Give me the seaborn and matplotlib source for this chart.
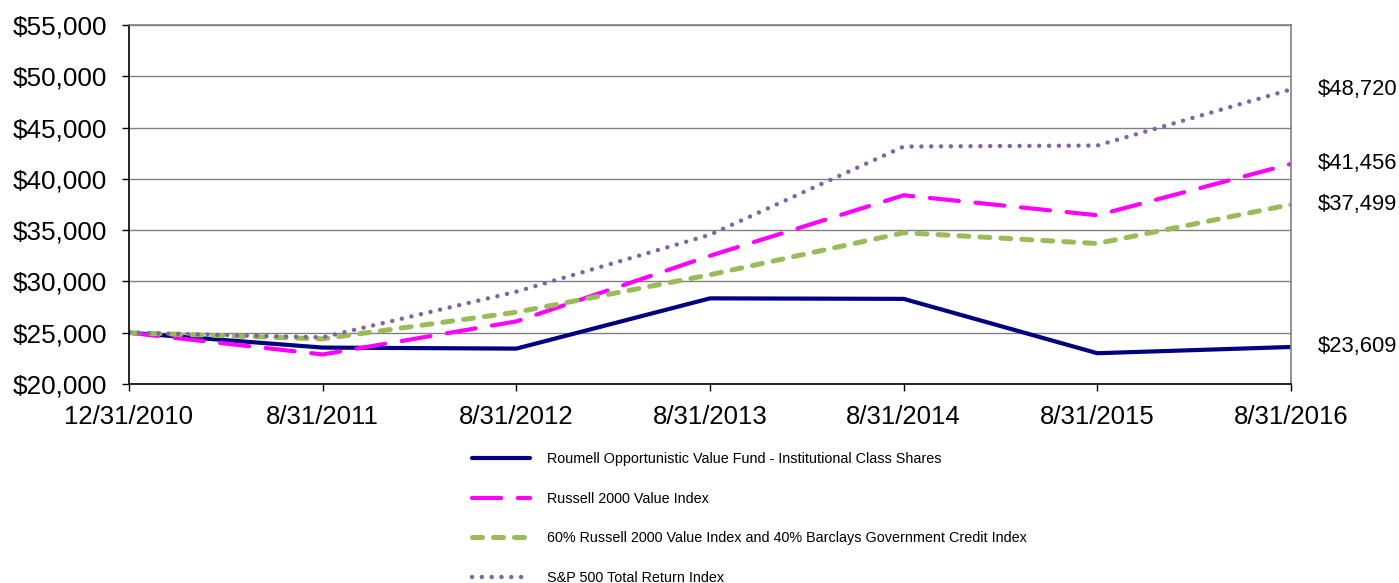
import numpy as np
import pandas as pd
import matplotlib
matplotlib.use("Agg")
import matplotlib.pyplot as plt
import matplotlib.ticker as mticker
import seaborn as sns

dates = ["12/31/2010", "8/31/2011", "8/31/2012", "8/31/2013",
         "8/31/2014", "8/31/2015", "8/31/2016"]
fund = [25000, 23550, 23450, 28350, 28300, 23000, 23609]
russell = [25000, 22880, 26100, 32500, 38400, 36450, 41456]
blend = [25000, 24400, 27000, 30650, 34750, 33700, 37499]
sp500 = [25000, 24550, 29000, 34550, 43150, 43250, 48720]

names = ["Roumell Opportunistic Value Fund - Institutional Class Shares",
         "Russell 2000 Value Index",
         "60% Russell 2000 Value Index and 40% Barclays Government Credit Index",
         "S&P 500 Total Return Index"]
series = [fund, russell, blend, sp500]
end_labels = ["$23,609", "$41,456", "$37,499", "$48,720"]

sns.set_theme(style="white")
plt.rcParams['font.family'] = ['Liberation Sans', 'DejaVu Sans']
plt.rcParams['text.color'] = 'black'
plt.rcParams['xtick.color'] = 'black'
plt.rcParams['ytick.color'] = 'black'
plt.rcParams['xtick.labelcolor'] = 'black'
plt.rcParams['ytick.labelcolor'] = 'black'

fig = plt.figure(figsize=(13.99, 5.83), dpi=100)
ax = fig.add_axes([129/1399, 1-384/583, (1291-129)/1399, (384-25)/583])

x = np.arange(len(dates))
styles = [
    dict(color="#000080", lw=3.0, dashes=None, cap="butt"),
    dict(color="#FF00FF", lw=3.0, dashes=(7.0, 4.0), cap="round"),
    dict(color="#9BBB59", lw=3.6, dashes=(2.0, 2.2), cap="round"),
    dict(color="#8064A2", lw=3.2, dashes=(0.01, 2.2), cap="round"),
]
handles = []
for name, vals, st in zip(names, series, styles):
    df = pd.DataFrame({"x": x, "y": vals})
    sns.lineplot(data=df, x="x", y="y", ax=ax, color=st["color"], lw=st["lw"],
                 label=name, legend=False)
    ln = ax.lines[-1]
    ln.set_solid_joinstyle("miter")
    if st["dashes"] is not None:
        ln.set_dashes(st["dashes"])
        ln.set_dash_capstyle(st["cap"])
    handles.append(ln)

for vals, lab in zip(series, end_labels):
    ax.annotate(lab, xy=(x[-1], vals[-1]), xytext=(27, 0), textcoords="offset pixels",
                va="center", ha="left", fontsize=15.8, color="black", annotation_clip=False)

ax.set_xlim(0, len(dates) - 1)
ax.set_ylim(20000, 55000)
ax.set_yticks(np.arange(20000, 55001, 5000))
ax.yaxis.set_major_formatter(mticker.StrMethodFormatter("${x:,.0f}"))
ax.set_xticks(x)
ax.set_xticklabels(dates)
ax.set_xlabel("")
ax.set_ylabel("")
ax.grid(axis="y", color="#808080", lw=1.0)
ax.grid(axis="x", visible=False)
ax.tick_params(axis="y", which="major", left=True, length=5, width=1, color="black",
               labelcolor="black", pad=11, labelsize=18.8)
ax.tick_params(axis="x", which="major", bottom=True, length=5, width=1, color="black",
               labelcolor="black", pad=10, labelsize=18.5)
for side in ["left", "bottom"]:
    ax.spines[side].set_color("black")
    ax.spines[side].set_linewidth(1.2)
for side in ["right", "top"]:
    ax.spines[side].set_color("#808080")
    ax.spines[side].set_linewidth(1.2)
ax.set_zorder(1)

leg = fig.legend(handles=handles, labels=names, loc="upper left",
                 bbox_to_anchor=(472/1399, 1-452/583), frameon=False,
                 fontsize=10.4, handlelength=4.0, handletextpad=1.2,
                 labelspacing=1.78, borderpad=0, borderaxespad=0,
                 labelcolor="black")

fig.savefig("out.png", dpi=100)
